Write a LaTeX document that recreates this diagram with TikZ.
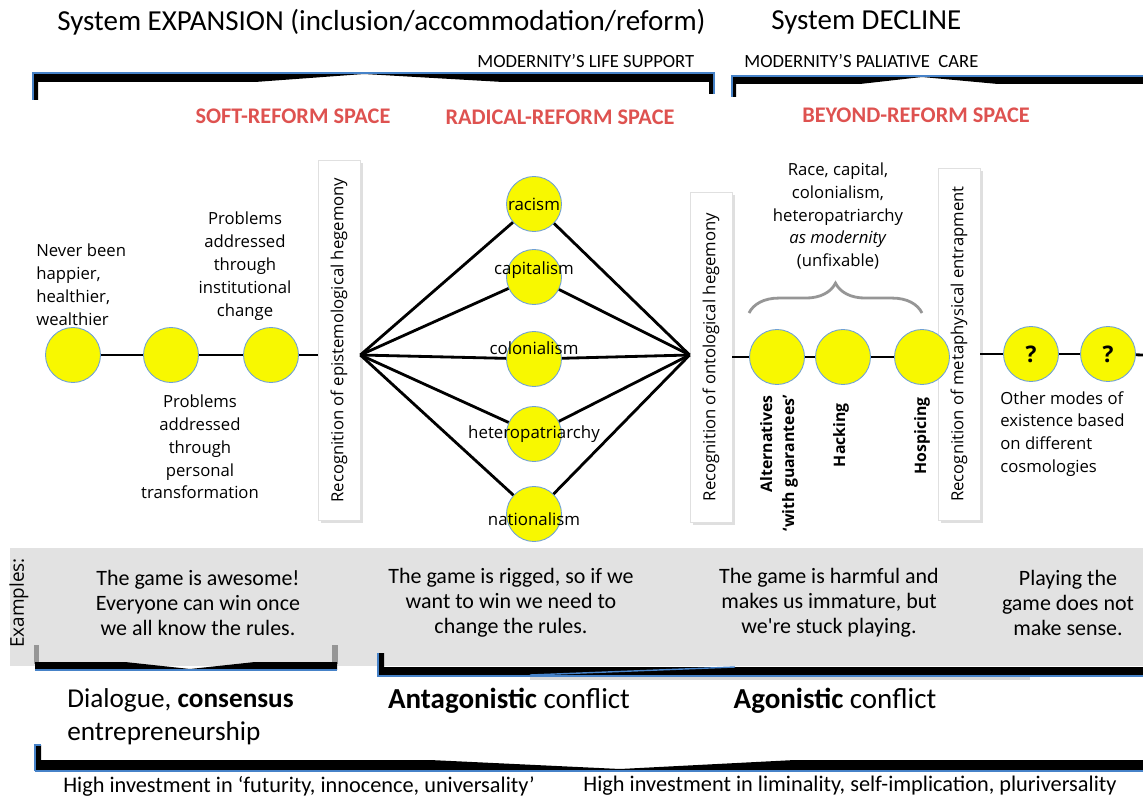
\documentclass[tikz,border=0pt]{standalone}
\usepackage{fontspec}
\setmainfont{Open Sans}
\newfontfamily\carlito{Carlito}
\usepackage{graphicx}
\usepackage{tikz}
\usetikzlibrary{positioning}
\usetikzlibrary{shadows}
\usetikzlibrary{decorations.pathreplacing}
\definecolor{dotyellow}{RGB}{248,248,0}
\definecolor{dotrim}{RGB}{110,160,215}
\definecolor{spacered}{RGB}{222,82,80}
\definecolor{bandgrey}{RGB}{226,226,226}
\definecolor{barblue}{RGB}{70,130,200}
\definecolor{bracegrey}{RGB}{150,150,150}
\tikzset{circ/.style = {circle, fill = dotyellow, draw = dotrim, line width = 0.5pt, minimum size = 1.1cm, inner sep = 0}}
\tikzset{clab/.style = {font = \fontsize{9.6}{11}\selectfont, inner sep = 0}}
\tikzset{recog/.style = {fill = white, draw = black!12, line width = 0.4pt, minimum width = 0.84cm, inner sep = 0,
    drop shadow = {shadow xshift = 1.5pt, shadow yshift = -1.5pt, opacity = 0.25}, font = \fontsize{9.5}{11}\selectfont}}
\tikzset{link/.style = {line width = 1.6pt}}
\tikzset{txt/.style = {align = center, inner sep = 0, font = \fontsize{9.5}{13}\selectfont}}
\tikzset{vlab/.style = {rotate = 90, anchor = east, align = right, inner sep = 0, font = \fontsize{9}{12.5}\selectfont\bfseries}}
\tikzset{title/.style = {inner sep = 0, font = \carlito\fontsize{16.5}{19}\selectfont}}
\tikzset{tag/.style = {inner sep = 0, font = \carlito\fontsize{10.6}{12}\selectfont}}
\tikzset{space/.style = {inner sep = 0, text = spacered, font = \carlito\bfseries\fontsize{12.7}{14}\selectfont}}
\tikzset{game/.style = {align = center, inner sep = 0, font = \carlito\fontsize{12.5}{14.2}\selectfont}}
\tikzset{mode/.style = {inner sep = 0, font = \carlito\fontsize{16.5}{18.7}\selectfont}}
\tikzset{invest/.style = {inner sep = 0, font = \carlito\fontsize{12.7}{14}\selectfont}}

\begin{document}
\begin{tikzpicture}[x=0.02cm, y=-0.02cm]
    \useasboundingbox (0,0) rectangle (1143,797);

    % headings
    \node [title, anchor=west] (expand) at (57,22) {System EXPANSION (inclusion/accommodation/reform)};
    \node [title, anchor=west] (decline) at (771,22) {System DECLINE};
    \node [tag, anchor=west] (lifesup) at (477,61) {MODERNITY’S LIFE SUPPORT};
    \node [tag, anchor=west] (palcare) at (744,61) {MODERNITY’S PALIATIVE\ \ CARE};

    % top brackets
    \fill (33,73) -- (714,73) -- (714,94) -- (709,94) -- (709,82) -- (503,82) -- (364,74)
        -- (255,82) -- (38,82) -- (38,100) -- (33,100) -- cycle;
    \draw [barblue, line width=0.6pt] (33,100) -- (33,73) -- (714,73) -- (714,94);
    \fill (732,76) -- (1143,76) -- (1143,84) -- (998,84) -- (922,77) -- (860,84)
        -- (736,84) -- (736,97) -- (732,97) -- cycle;
    \draw [barblue, line width=0.6pt] (732,97) -- (732,76) -- (1143,76);

    \node [space] (soft) at (293,116) {SOFT-REFORM SPACE};
    \node [space] (radical) at (560,117) {RADICAL-REFORM SPACE};
    \node [space] (beyond) at (916,115) {BEYOND-REFORM SPACE};

    % recognition boxes
    \node [recog, minimum height=7.2cm] (epi) at (339,340) {\rotatebox{90}{Recognition of epistemological hegemony}};
    \node [recog, minimum height=6.6cm] (onto) at (711,357) {\rotatebox{90}{Recognition of ontological hegemony}};
    \node [recog, minimum height=7.04cm] (meta) at (959,344) {\rotatebox{90}{Recognition of metaphysical entrapment}};

    % circles
    \node [circ] (c1) at (73,355) {};
    \node [circ] (c2) at (171,355) {};
    \node [circ] (c3) at (271,355) {};
    \node [circ, label={[clab]center:racism}] (rac) at (534,204) {};
    \node [circ, label={[clab, yshift=4pt]center:capitalism}] (cap) at (534,277) {};
    \node [circ, label={[clab, yshift=6pt]center:colonialism}] (col) at (534,359) {};
    \node [circ, label={[clab]center:heteropatriarchy}] (het) at (534,434) {};
    \node [circ, label={[clab, yshift=-2.8pt]center:nationalism}] (nat) at (534,514) {};
    \node [circ] (alt) at (777,357) {};
    \node [circ] (hack) at (843,357) {};
    \node [circ] (hosp) at (922,357) {};
    \node [circ, font=\fontsize{13}{14}\selectfont] (q1) at (1031,354) {\textbf{?}};
    \node [circ, font=\fontsize{13}{14}\selectfont] (q2) at (1108,354) {\textbf{?}};

    \coordinate (hubL) at (epi.east |- c1);
    \coordinate (hubR) at (onto.west |- c1);
    \coordinate (lineend) at (1143,355);

    \foreach \a/\b in {c1/c2, c2/c3, alt/hack, hack/hosp, q1/q2}
        \draw [link] (\a) -- (\b);
    \draw [link] (c3) -- (epi.west |- c3);
    \foreach \n in {rac, cap, col, het, nat} {
        \draw [link] (hubL) -- (\n);
        \draw [link] (\n) -- (hubR);
    }
    \draw [link] (onto.east |- alt) -- (alt);
    \draw [link] (meta.east |- q1) -- (q1);
    \draw [link] (q2) -- (lineend);

    % texts along the line
    \node [txt, align=left, anchor=west] (never) at (36,285) {Never been\\happier,\\healthier,\\wealthier};
    \node [txt] (inst) at (245,266) {Problems\\addressed\\through\\institutional\\change};
    \node [txt] (pers) at (200,447) {Problems\\addressed\\through\\personal\\transformation};
    \node [txt] (racecap) at (838,216) {Race, capital,\\colonialism,\\heteropatriarchy\\\textit{as modernity}\\(unfixable)};
    \draw [bracegrey, line width=1.6pt, decorate, decoration={brace, amplitude=17pt}] (749,313) -- (922,313);
    \node [vlab] (altlab) at (779,395) {Alternatives\\‘with guarantees’};
    \node [vlab] (hacklab) at (841,403) {Hacking};
    \node [vlab] (hosplab) at (922,397) {Hospicing};
    \node [txt, align=left, anchor=west] (others) at (1000,434) {Other modes of\\existence based\\on different\\cosmologies};

    % examples band
    \fill [bandgrey] (10,548) rectangle (1143,666);
    \node [rotate=90, inner sep=0, font=\fontsize{10.8}{12}\selectfont] (examples) at (19,603) {Examples:};
    \node [game] (awesome) at (198,603) {The game is awesome!\\Everyone can win once\\we all know the rules.};
    \node [game] (rigged) at (511,603) {The game is rigged, so if we\\want to win we need to\\change the rules.};
    \node [game] (harmful) at (829,603) {The game is harmful and\\makes us immature, but\\we're stuck playing.};
    \node [game] (nosense) at (1068,603) {Playing the\\game does not\\make sense.};

    % bottom brackets
    \draw [bracegrey, line width=3pt] (36.5,645) -- (36.5,664);
    \draw [bracegrey, line width=3pt] (335,645) -- (335,664);
    \fill (35,662) -- (125,662) -- (190,669) -- (255,662) -- (337,662) -- (337,670) -- (35,670) -- cycle;
    \draw [barblue, line width=0.6pt] (35,670) -- (337,670);
    \fill [black!30, opacity=0.5] (530,676) rectangle (1030,680);
    \fill (378,653) -- (384,653) -- (384,667) -- (1143,667) -- (1143,676) -- (378,676) -- cycle;
    \draw [barblue, line width=0.6pt] (378,653) -- (378,676) -- (1143,676);
    \draw [barblue, line width=0.8pt] (530,675) -- (735,667);

    \node [mode, align=left, anchor=west, font=\carlito\fontsize{15.5}{18.7}\selectfont] (dialogue) at (67,717) {Dialogue, \textbf{consensus}\\entrepreneurship};
    \node [mode] (antag) at (509,701) {\textbf{Antagonistic} conflict};
    \node [mode] (agon) at (835,701) {\textbf{Agonistic} conflict};

    \fill (35,745) -- (41,745) -- (41,760) -- (430,760) -- (620,769) -- (795,760) -- (1143,760)
        -- (1143,771) -- (35,771) -- cycle;
    \draw [barblue, line width=0.6pt] (35,771) -- (35,745) -- (41,745);
    \draw [barblue, line width=0.6pt] (35,771) -- (1143,771);

    \node [invest] (futurity) at (299,786) {High investment in ‘futurity, innocence, universality’};
    \node [invest] (liminal) at (850,786) {High investment in liminality, self-implication, pluriversality};
\end{tikzpicture}
\end{document}
